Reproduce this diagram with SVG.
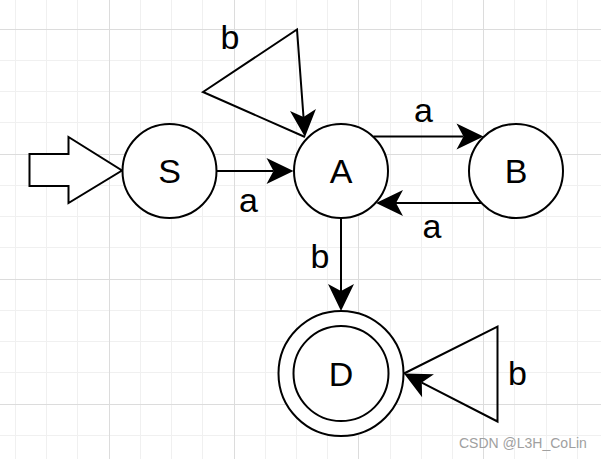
<svg xmlns="http://www.w3.org/2000/svg" width="601" height="459" viewBox="0 0 601 459">
<style>
.minor{stroke:#f0f0f0;stroke-width:1;fill:none}
.major{stroke:#dcdcdc;stroke-width:1;fill:none}
.node{fill:#ffffff;stroke:#000000;stroke-width:2}
.edge{fill:none;stroke:#000000;stroke-width:2}
.lbl{font-family:"Liberation Sans",Arial,sans-serif;font-size:34px;fill:#000000;text-anchor:middle}
.wm{font-family:"Liberation Sans",Arial,sans-serif;font-size:14px;fill:#a0a0a0}
</style>
<defs>
<marker id="arr" markerUnits="userSpaceOnUse" markerWidth="40" markerHeight="40" refX="0" refY="0" orient="auto" overflow="visible">
<path d="M20,0 L-7,-13 L0,0 L-7,13 Z" fill="#000000"/>
</marker>
</defs>
<rect x="0" y="0" width="601" height="459" fill="#ffffff"/>
<g id="grid">
<path class="minor" d="M15.5,0V459M46.5,0V459M77.5,0V459M140.5,0V459M171.5,0V459M202.5,0V459M265.5,0V459M296.5,0V459M327.5,0V459M390.5,0V459M421.5,0V459M452.5,0V459M514.5,0V459M546.5,0V459M577.5,0V459M0,60.5H601M0,91.5H601M0,122.5H601M0,185.5H601M0,216.5H601M0,247.5H601M0,310.5H601M0,341.5H601M0,372.5H601M0,435.5H601"/>
<path class="major" d="M109.5,0V459M234.5,0V459M358.5,0V459M483.5,0V459M0,29.5H601M0,154.5H601M0,279.5H601M0,404.5H601"/>
</g>
<g id="start">
<polygon class="node" points="29.5,154 68.5,154 68.5,137 122,170.5 68.5,203 68.5,186 29.5,186"/>
</g>
<g id="connectors">
<path class="edge" d="M216.5,171 L273.5,171" marker-end="url(#arr)"/>
<path class="edge" d="M305,137 L203,92 L297,29.5 L303.5,117" marker-end="url(#arr)"/>
<path class="edge" d="M373.5,136.5 L463.5,136.5" marker-end="url(#arr)"/>
<path class="edge" d="M482,203 L396,203" marker-end="url(#arr)"/>
<path class="edge" d="M341,218 L341,291" marker-end="url(#arr)"/>
<path class="edge" d="M404,373.5 L497.5,326.5 L497.5,421.5 L421.8,382.6" marker-end="url(#arr)"/>
</g>
<g id="labels">
<text class="lbl" x="248.5" y="212">a</text>
<text class="lbl" x="230" y="49">b</text>
<text class="lbl" x="423.5" y="122">a</text>
<text class="lbl" x="432" y="238">a</text>
<text class="lbl" x="320" y="268">b</text>
<text class="lbl" x="517.5" y="384.5">b</text>
</g>
<g id="S">
<circle class="node" cx="169.5" cy="171" r="47"/>
<text class="lbl" x="169.5" y="183">S</text>
</g>
<g id="A">
<circle class="node" cx="341" cy="171" r="47"/>
<text class="lbl" x="341" y="183">A</text>
</g>
<g id="B">
<circle class="node" cx="516" cy="171" r="47"/>
<text class="lbl" x="516" y="183">B</text>
</g>
<g id="D">
<circle class="node" cx="341" cy="373.5" r="62.5"/>
<circle class="node" cx="341" cy="373.5" r="47.5"/>
<text class="lbl" x="341" y="385.5">D</text>
</g>
<text class="wm" x="459" y="448">CSDN @L3H_CoLin</text>
</svg>
